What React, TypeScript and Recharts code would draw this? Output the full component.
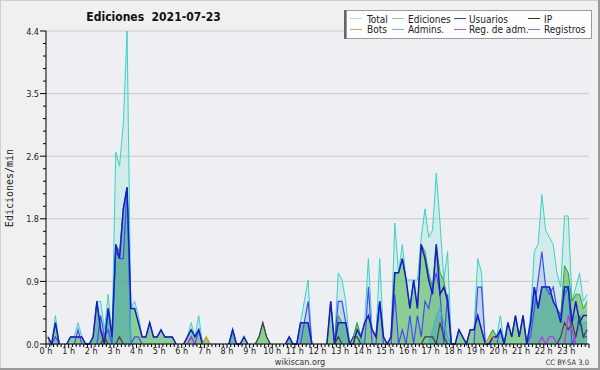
import React from 'react';
import { ComposedChart, Area, Line, XAxis, YAxis, CartesianGrid } from 'recharts';

const FONT = "'DejaVu Sans Condensed', 'DejaVu Sans', sans-serif";
const MONO = "'DejaVu Sans Mono', monospace";

// 10-minute bins, each value sits at the centre of its bin (minutes after midnight)
const binMinutes = Array.from({ length: 144 }, (_, i) => i * 10 + 5);
const xTicks = Array.from({ length: 145 }, (_, i) => i * 10);
const yMajor = [0, 0.88, 1.76, 2.64, 3.52, 4.4];
const yTicks = Array.from({ length: 26 }, (_, i) => +(i * 0.176).toFixed(3));

// edits per minute, one row per hour (6 bins)
const total = [
  0.1, 0, 0.4, 0, 0, 0,
  0.1, 0.1, 0.3, 0.1, 0, 0,
  0.1, 0.6, 0.6, 0.2, 0.7, 0.1,
  2.7, 2.5, 3.1, 4.4, 0.5, 0.6,
  0.4, 0.1, 0.1, 0.3, 0.1, 0.1,
  0.2, 0.1, 0.1, 0.1, 0, 0,
  0, 0.1, 0.3, 0.1, 0.4, 0,
  0.1, 0, 0, 0, 0, 0,
  0, 0.2, 0, 0, 0.1, 0,
  0, 0, 0.1, 0.3, 0.1, 0,
  0, 0, 0, 0, 0.1, 0,
  0, 0.3, 0.6, 0.9, 0, 0,
  0, 0, 0, 0.6, 0, 1.0,
  0.9, 0.6, 0, 0.1, 0.3, 0.1,
  0.3, 1.2, 0.2, 0.1, 1.2, 0.1,
  0, 0.1, 1.7, 1.0, 1.4, 0.9,
  0.9, 0.9, 0.9, 1.5, 1.9, 1.5,
  1.6, 2.4, 1.7, 0.9, 1.3, 0,
  0, 0.2, 0.1, 0, 0.2, 0.2,
  1.2, 1.0, 0, 0.1, 0.2, 0.1,
  0.4, 0, 0.3, 0.1, 0.4, 0.1,
  0.4, 0, 0.4, 1.3, 1.4, 2.1,
  1.6, 1.5, 1.4, 1.0, 0.8, 1.8,
  1.8, 0.6, 0.8, 1.0, 0.6, 0.7,
];

const ediciones = [
  0.1, 0, 0.3, 0, 0, 0,
  0.1, 0.1, 0.1, 0.1, 0, 0,
  0.1, 0.6, 0.2, 0.1, 0.5, 0.1,
  1.4, 1.3, 1.9, 2.2, 0.5, 0.5,
  0.3, 0.1, 0.1, 0.3, 0.1, 0.1,
  0.2, 0.1, 0.1, 0.1, 0, 0,
  0, 0.1, 0.2, 0.1, 0.2, 0,
  0.1, 0, 0, 0, 0, 0,
  0, 0.2, 0, 0, 0.1, 0,
  0, 0, 0.1, 0.3, 0.1, 0,
  0, 0, 0, 0, 0.1, 0,
  0, 0.3, 0.3, 0.3, 0, 0,
  0, 0, 0, 0.6, 0, 0.4,
  0.3, 0.3, 0, 0.1, 0.3, 0.1,
  0.3, 0.4, 0.2, 0.1, 0.6, 0.1,
  0, 0.1, 1.0, 1.0, 1.2, 0.9,
  0.5, 0.9, 0.5, 1.4, 1.3, 1.0,
  0.8, 1.4, 1.0, 0.9, 0.6, 0,
  0, 0.2, 0.1, 0, 0.2, 0.2,
  0.4, 0.2, 0, 0.1, 0.2, 0.1,
  0.2, 0, 0.3, 0.1, 0.4, 0.1,
  0.4, 0, 0.3, 0.8, 0.5, 0.8,
  0.8, 0.8, 0.6, 0.5, 0.4, 1.1,
  1.0, 0.6, 0.7, 0.7, 0.5, 0.6,
];

const usuarios = [
  0.1, 0, 0.3, 0, 0, 0,
  0.1, 0.1, 0.1, 0.1, 0, 0,
  0.1, 0.6, 0.2, 0, 0.5, 0.1,
  1.4, 1.2, 1.9, 2.2, 0.5, 0.5,
  0.3, 0.1, 0.1, 0.3, 0.1, 0.1,
  0.2, 0.1, 0.1, 0.1, 0, 0,
  0, 0.1, 0.2, 0.1, 0.2, 0,
  0, 0, 0, 0, 0, 0,
  0, 0.2, 0, 0, 0.1, 0,
  0, 0, 0, 0, 0, 0,
  0, 0, 0, 0, 0.1, 0,
  0, 0.3, 0.3, 0.3, 0, 0,
  0, 0, 0, 0.6, 0, 0.3,
  0.3, 0.3, 0, 0, 0.2, 0.1,
  0.3, 0.4, 0.2, 0.1, 0.6, 0.1,
  0, 0.1, 1.0, 1.0, 1.2, 0.9,
  0.5, 0.9, 0.5, 1.4, 1.2, 0.9,
  0.7, 1.4, 0.7, 0.8, 0.6, 0,
  0, 0.2, 0.1, 0, 0.2, 0.2,
  0.4, 0.2, 0, 0, 0.1, 0.1,
  0.2, 0, 0.3, 0.1, 0.4, 0.1,
  0.4, 0, 0.3, 0.8, 0.5, 0.8,
  0.8, 0.8, 0.6, 0.5, 0.3, 0.8,
  0.8, 0.3, 0.6, 0.3, 0.4, 0.4,
];

const ip = [
  0, 0, 0, 0, 0, 0,
  0, 0, 0, 0, 0, 0,
  0, 0, 0, 0.1, 0, 0,
  0, 0.1, 0, 0, 0, 0,
  0, 0, 0, 0, 0, 0,
  0, 0, 0, 0, 0, 0,
  0, 0, 0, 0, 0, 0,
  0, 0, 0, 0, 0, 0,
  0, 0, 0, 0, 0, 0,
  0, 0, 0.1, 0.3, 0.1, 0,
  0, 0, 0, 0, 0, 0,
  0, 0, 0, 0, 0, 0,
  0, 0, 0, 0, 0, 0.1,
  0, 0, 0, 0.1, 0.1, 0,
  0, 0, 0, 0, 0, 0,
  0, 0, 0, 0, 0, 0,
  0, 0, 0, 0, 0.1, 0.1,
  0.1, 0, 0.3, 0.1, 0, 0,
  0, 0, 0, 0, 0, 0,
  0, 0, 0, 0, 0, 0,
  0, 0, 0, 0, 0, 0,
  0, 0, 0, 0, 0, 0,
  0, 0, 0, 0, 0.1, 0.3,
  0.2, 0.3, 0.1, 0.4, 0.1, 0.2,
];

const bots = [
  0, 0, 0, 0, 0, 0,
  0, 0, 0, 0, 0, 0,
  0, 0, 0, 0, 0, 0,
  0, 0, 0, 0, 0, 0,
  0, 0, 0, 0, 0, 0,
  0, 0, 0, 0, 0, 0,
  0, 0, 0, 0, 0, 0,
  0.1, 0, 0, 0, 0, 0,
  0, 0, 0, 0, 0, 0,
  0, 0, 0, 0, 0, 0,
  0, 0, 0, 0, 0, 0,
  0, 0, 0, 0, 0, 0,
  0, 0, 0, 0, 0, 0,
  0, 0, 0, 0, 0, 0,
  0, 0, 0, 0, 0, 0,
  0, 0, 0, 0, 0, 0,
  0, 0, 0, 0, 0, 0,
  0, 0, 0, 0, 0, 0,
  0, 0, 0, 0, 0, 0,
  0, 0, 0, 0.1, 0.1, 0,
  0, 0, 0, 0, 0, 0,
  0, 0, 0, 0, 0, 0,
  0, 0, 0, 0, 0, 0,
  0, 0, 0, 0, 0, 0,
];

const admins = [
  0, 0, 0, 0, 0, 0,
  0, 0, 0, 0, 0, 0,
  0.1, 0.6, 0.2, 0, 0.5, 0.1,
  1.4, 1.2, 1.9, 2.2, 0, 0,
  0, 0, 0, 0, 0, 0,
  0, 0, 0, 0, 0, 0,
  0, 0, 0, 0, 0, 0,
  0, 0, 0, 0, 0, 0,
  0, 0.2, 0, 0, 0, 0,
  0, 0, 0, 0, 0, 0,
  0, 0, 0, 0, 0.1, 0,
  0, 0.3, 0.3, 0.3, 0, 0,
  0, 0, 0, 0, 0, 0.3,
  0.3, 0.3, 0, 0, 0, 0.1,
  0, 0, 0, 0, 0, 0,
  0, 0, 0, 0, 0, 0,
  0, 0, 0, 0, 0, 0,
  0.2, 0.4, 0.5, 0.3, 0.1, 0,
  0, 0, 0, 0, 0, 0,
  0, 0, 0, 0, 0.1, 0.1,
  0, 0, 0, 0, 0, 0,
  0, 0, 0.3, 0.8, 0.5, 0.8,
  0.8, 0.8, 0.6, 0.5, 0.3, 0.8,
  0.8, 0.3, 0.4, 0.2, 0.3, 0.3,
];

const regAdm = [
  0, 0, 0, 0, 0, 0,
  0, 0, 0, 0, 0, 0,
  0, 0, 0, 0, 0, 0,
  0, 0, 0, 0, 0, 0,
  0, 0, 0, 0, 0, 0,
  0, 0, 0, 0, 0, 0,
  0, 0, 0.1, 0, 0, 0,
  0, 0, 0, 0, 0, 0,
  0, 0, 0, 0, 0, 0,
  0, 0, 0, 0, 0, 0,
  0, 0, 0, 0, 0, 0,
  0, 0, 0, 0, 0, 0,
  0, 0, 0, 0, 0, 0,
  0, 0, 0, 0, 0, 0,
  0, 0, 0, 0, 0, 0,
  0, 0, 0, 0, 0, 0,
  0, 0, 0, 0, 0, 0,
  0, 0, 0, 0, 0, 0,
  0, 0, 0, 0, 0, 0,
  0, 0, 0, 0, 0, 0,
  0, 0, 0, 0, 0, 0,
  0, 0, 0, 0, 0, 0.1,
  0, 0.1, 0.1, 0, 0, 0,
  0.4, 0.2, 0, 0, 0, 0,
];

const registros = [
  0, 0, 0.1, 0, 0, 0,
  0, 0, 0.2, 0, 0, 0,
  0, 0, 0.4, 0.1, 0.2, 0,
  1.3, 1.2, 1.2, 2.2, 0, 0.1,
  0.1, 0, 0, 0, 0, 0,
  0, 0, 0, 0, 0, 0,
  0, 0, 0.1, 0, 0.2, 0,
  0, 0, 0, 0, 0, 0,
  0, 0, 0, 0, 0, 0,
  0, 0, 0, 0, 0, 0,
  0, 0, 0, 0, 0, 0,
  0, 0, 0.3, 0.6, 0, 0,
  0, 0, 0, 0, 0, 0.6,
  0.6, 0.3, 0, 0, 0, 0,
  0, 0.8, 0, 0, 0.6, 0,
  0, 0, 0.7, 0, 0.2, 0,
  0.4, 0, 0.4, 0.1, 0.6, 0.5,
  0.8, 1.0, 0.7, 0, 0.7, 0,
  0, 0, 0, 0, 0, 0,
  0.8, 0.8, 0, 0, 0, 0,
  0.2, 0, 0, 0, 0, 0,
  0, 0, 0.1, 0.5, 0.9, 1.3,
  0.8, 0.7, 0.8, 0.5, 0.4, 0.7,
  0.8, 0, 0.1, 0.3, 0.1, 0.1,
];

const legendItems = [
  { name: 'Total', color: '#a8e6df' },
  { name: 'Ediciones', color: '#8ed48e' },
  { name: 'Usuarios', color: '#3a3ad8' },
  { name: 'IP', color: '#333333' },
  { name: 'Bots', color: '#f0a040' },
  { name: 'Admins.', color: '#50c8e0' },
  { name: 'Reg. de adm.', color: '#d050e0' },
  { name: 'Registros', color: '#7878f0' },
];

// hide long runs of zeros so the lines do not paint over the x axis
const gap = (arr: number[], i: number) => {
  const v = arr[i];
  if (v !== 0) return v;
  const prev = i > 0 ? arr[i - 1] : 0;
  const next = i < arr.length - 1 ? arr[i + 1] : 0;
  return prev === 0 && next === 0 ? null : 0;
};

const rows = binMinutes.map((t, i) => ({
  t,
  total: gap(total, i),
  ediciones: gap(ediciones, i),
  usuarios: gap(usuarios, i),
  ip: gap(ip, i),
  bots: gap(bots, i),
  admins: gap(admins, i),
  regAdm: gap(regAdm, i),
  registros: gap(registros, i),
}));

const XTick = (props: any) => {
  const { x, y, payload } = props;
  const v = payload.value;
  const major = v % 60 === 0;
  return (
    <g>
      <line x1={x} x2={x} y1={y} y2={y + (major ? 4 : 3)} stroke="#000" strokeWidth={1} />
      {major && v < 1440 && (
        <text x={x} y={y + 10} textAnchor="middle" fontSize={9} fontFamily={FONT} fill="#222">
          {v / 60} h
        </text>
      )}
    </g>
  );
};

const YTick = (props: any) => {
  const { x, y, payload } = props;
  const v = payload.value;
  const major = yMajor.some((m) => Math.abs(m - v) < 0.001);
  return (
    <g>
      <line x1={x - (major ? 6 : 3)} x2={x} y1={y} y2={y} stroke="#000" strokeWidth={1} />
      {major && (
        <text x={x - 7} y={y + 3.5} textAnchor="end" fontSize={9} fontFamily={FONT} fill="#222">
          {v.toFixed(1)}
        </text>
      )}
    </g>
  );
};

const legendCols = [
  { sw: 350, tx: 367 },
  { sw: 392, tx: 408 },
  { sw: 454, tx: 469 },
  { sw: 528, tx: 544 },
];

export default function App() {
  return (
    <div style={{ position: 'absolute', left: 0, top: 0, width: 600, height: 370, background: '#f0f0f0', overflow: 'hidden' }}>
      <ComposedChart width={600} height={370} data={rows} margin={{ top: 31, right: 11, bottom: 0, left: 0 }}>
        <CartesianGrid vertical={false} horizontalValues={yMajor} stroke="#c8c8c8" fill="#edeff2" />
        <Area type="linear" dataKey="total" stroke="#3cd2c4" strokeWidth={1} fill="#40d8c8" fillOpacity={0.16} dot={false} activeDot={false} isAnimationActive={false} />
        <Area type="linear" dataKey="registros" stroke="none" fill="#5050f0" fillOpacity={0.12} dot={false} activeDot={false} isAnimationActive={false} />
        <Area type="linear" dataKey="ediciones" stroke="#3aa03a" strokeWidth={1} fill="#5cbc5c" fillOpacity={0.6} dot={false} activeDot={false} isAnimationActive={false} />
        <Area type="linear" dataKey="admins" stroke="none" fill="#2a90c0" fillOpacity={0.3} dot={false} activeDot={false} isAnimationActive={false} />
        <Line type="linear" dataKey="registros" stroke="#4a4af5" strokeWidth={1.2} dot={false} activeDot={false} isAnimationActive={false} />
        <Line type="linear" dataKey="admins" stroke="#28b8e0" strokeWidth={1} dot={false} activeDot={false} isAnimationActive={false} />
        <Line type="linear" dataKey="usuarios" stroke="#1a1acc" strokeWidth={1.5} dot={false} activeDot={false} isAnimationActive={false} />
        <Line type="linear" dataKey="ip" stroke="#404040" strokeWidth={1.2} dot={false} activeDot={false} isAnimationActive={false} />
        <Line type="linear" dataKey="bots" stroke="#e0a020" strokeWidth={1.2} dot={false} activeDot={false} isAnimationActive={false} />
        <Line type="linear" dataKey="regAdm" stroke="#c030e0" strokeWidth={1.2} dot={false} activeDot={false} isAnimationActive={false} />
        <XAxis
          dataKey="t"
          type="number"
          domain={[0, 1440]}
          ticks={xTicks}
          interval={0}
          height={26}
          tickSize={0}
          tickMargin={0}
          tick={<XTick />}
          axisLine={{ stroke: '#000' }}
          tickLine={false}
        />
        <YAxis
          type="number"
          domain={[0, 4.4]}
          ticks={yTicks}
          interval={0}
          width={46}
          tickSize={0}
          tickMargin={0}
          tick={<YTick />}
          axisLine={{ stroke: '#000' }}
          tickLine={false}
        />
      </ComposedChart>

      <svg width={600} height={370} style={{ position: 'absolute', left: 0, top: 0, pointerEvents: 'none' }}>
        <text x={153.5} y={21} textAnchor="middle" fontFamily={FONT} fontWeight="bold" fontSize={12} fill="#111" style={{ whiteSpace: 'pre' }}>
          Ediciones  2021-07-23
        </text>
        <text transform="translate(13,188) rotate(-90)" textAnchor="middle" fontFamily={MONO} fontSize={10} fill="#222">
          Ediciones/min
        </text>
        <text x={300} y={365} textAnchor="middle" fontFamily={FONT} fontSize={9} fill="#333">wikiscan.org</text>
        <text x={589} y={365} textAnchor="end" fontFamily={FONT} fontSize={7.5} fill="#333">CC BY-SA 3.0</text>

        <rect x={344} y={10} width={2} height={29} fill="#666" />
        <rect x={346.5} y={10.5} width={245} height={28} fill="#fdfdfd" stroke="#9a9a9a" />
        {legendItems.map((it, i) => {
          const col = legendCols[i % 4];
          const row = Math.floor(i / 4);
          const cy = row === 0 ? 18.5 : 29.5;
          const by = row === 0 ? 22.5 : 32.8;
          return (
            <g key={it.name}>
              <line x1={col.sw} x2={col.sw + 12} y1={cy} y2={cy} stroke={it.color} strokeWidth={1} />
              <text x={col.tx} y={by} fontFamily={FONT} fontSize={10} fill="#222">{it.name}</text>
            </g>
          );
        })}

        <rect x={0.5} y={0.5} width={598} height={368} fill="none" stroke="#cfcfcf" />
        <line x1={0} x2={600} y1={369} y2={369} stroke="#9a9a9a" strokeWidth={2} />
        <line x1={599} x2={599} y1={0} y2={370} stroke="#9a9a9a" strokeWidth={2} />
      </svg>
    </div>
  );
}
